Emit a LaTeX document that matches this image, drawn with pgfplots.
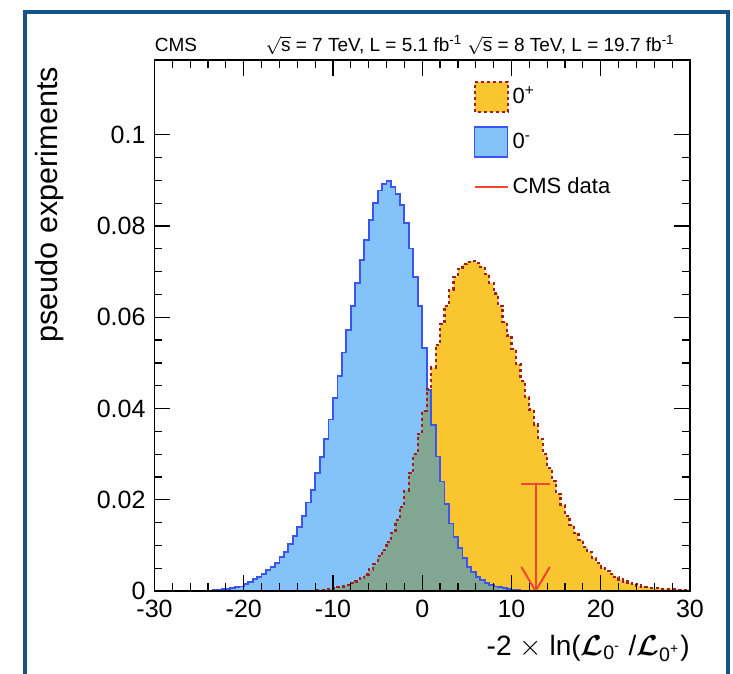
\documentclass[border=0pt]{standalone}
\usepackage{amsmath}
\usepackage{bm}
\usepackage{fontspec}
\setmainfont{Liberation Sans}
\usepackage{pgfplots}
\usepackage{pgfplotstable}
\pgfplotsset{compat=1.18}
\definecolor{yelF}{RGB}{249,198,48}
\definecolor{redD}{RGB}{160,30,30}
\definecolor{bluF}{RGB}{10,135,245}
\definecolor{bluL}{RGB}{60,85,240}
\definecolor{arrowR}{RGB}{240,70,50}
\definecolor{frameB}{RGB}{22,84,135}
\pgfplotstableread{
x neg pos
-30 0 0
-29.5 0 0
-29 0 0
-28.5 0 0
-28 0 0
-27.5 0 0
-27 0 0
-26.5 0 0
-26 0 0
-25.5 0 0
-25 0.00005 0
-24.5 0.00005 0
-24 0.0001 0
-23.5 0.0002 0
-23 0.0003 0
-22.5 0.0004 0
-22 0.0005 0
-21.5 0.0007 0
-21 0.0008 0
-20.5 0.0010 0
-20 0.0015 0
-19.5 0.0020 0
-19 0.0026 0
-18.5 0.0031 0
-18 0.0037 0
-17.5 0.0046 0
-17 0.0053 0
-16.5 0.0062 0
-16 0.0074 0
-15.5 0.0085 0
-15 0.0103 0
-14.5 0.0121 0
-14 0.0141 0
-13.5 0.0165 0
-13 0.0194 0
-12.5 0.0221 0
-12 0.0258 0.0001
-11.5 0.0293 0.0002
-11 0.0333 0.0003
-10.5 0.0376 0.0004
-10 0.0423 0.0006
-9.5 0.0472 0.0008
-9 0.0523 0.0010
-8.5 0.0572 0.0013
-8 0.0625 0.0017
-7.5 0.0675 0.0021
-7 0.0726 0.0028
-6.5 0.0770 0.0036
-6 0.0814 0.0047
-5.5 0.0850 0.0060
-5 0.0878 0.0076
-4.5 0.0892 0.0090
-4 0.0898 0.0108
-3.5 0.0885 0.0128
-3 0.0870 0.0155
-2.5 0.0846 0.0185
-2 0.0806 0.0220
-1.5 0.0751 0.0258
-1 0.0689 0.0300
-0.5 0.0624 0.0345
0 0.0532 0.0395
0.5 0.0441 0.0443
1 0.0364 0.0490
1.5 0.0295 0.0540
2 0.0240 0.0585
2.5 0.0190 0.0625
3 0.0148 0.0660
3.5 0.0119 0.0688
4 0.0094 0.0705
4.5 0.0072 0.0716
5 0.0053 0.0721
5.5 0.0042 0.0723
6 0.0031 0.0719
6.5 0.0024 0.0710
7 0.0018 0.0695
7.5 0.0013 0.0675
8 0.0010 0.0652
8.5 0.0008 0.0625
9 0.0006 0.0590
9.5 0.0004 0.0560
10 0.0003 0.0530
10.5 0.0002 0.0498
11 0.0001 0.0460
11.5 0.0001 0.0425
12 0 0.0398
12.5 0 0.0365
13 0 0.0333
13.5 0 0.0300
14 0 0.0270
14.5 0 0.0242
15 0 0.0213
15.5 0 0.0188
16 0 0.0165
16.5 0 0.0145
17 0 0.0128
17.5 0 0.0112
18 0 0.0097
18.5 0 0.0085
19 0 0.0072
19.5 0 0.0061
20 0 0.0051
20.5 0 0.0044
21 0 0.0037
21.5 0 0.0030
22 0 0.0025
22.5 0 0.0021
23 0 0.0017
23.5 0 0.0015
24 0 0.0012
24.5 0 0.0010
25 0 0.0008
25.5 0 0.0007
26 0 0.0006
26.5 0 0.0005
27 0 0.0005
27.5 0 0.0004
28 0 0.0004
28.5 0 0.0003
29 0 0.0003
29.5 0 0.0003
30 0 0.0003
}\histdata
\begin{document}
\begin{tikzpicture}
\begin{axis}[
  name=ax, at={(0,0)}, anchor=south west,
  scale only axis, width=267.75pt, height=265.5pt,
  xmin=-30, xmax=30, ymin=0, ymax=0.1164,
  axis on top,
  axis line style={line width=0.8pt},
  xtick={-30,-20,-10,0,10,20,30},
  xticklabels={-30,-20,-10,0,10,20,30},
  minor x tick num=4,
  ytick={0,0.02,0.04,0.06,0.08,0.1},
  yticklabels={0,0.02,0.04,0.06,0.08,0.1},
  minor y tick num=3,
  tick align=inside,
  major tick length=8pt, minor tick length=3.8pt,
  every tick/.style={black, line width=0.6pt},
  /pgf/number format/assume math mode=true,
  ticklabel style={font=\fontsize{12.5}{15}\selectfont},
  xticklabel style={yshift=-1pt},
  yticklabel style={xshift=-1pt},
  xlabel={-2 $\times$ ln($\boldsymbol{\mathcal{L}}_{\text{0}^{\text{-}}}$ /$\boldsymbol{\mathcal{L}}_{\text{0}^{\text{+}}}$)},
  xlabel style={at={(axis description cs:1,0)}, anchor=base east, inner sep=0pt, yshift=-32pt, font=\fontsize{14}{17}\selectfont},
  ylabel={pseudo experiments},
  ylabel style={at={(axis description cs:-0.195,1)}, anchor=east, font=\fontsize{15.3}{18}\selectfont},
  legend style={at={(axis description cs:0.595,0.962)}, anchor=north west, draw=none, fill=none,
    inner sep=0pt, row sep=6.8pt, font=\fontsize{11}{13}\selectfont},
  legend cell align=left,
]
\addplot[const plot mark left, fill=yelF, draw=none, forget plot] table[x=x, y=pos] {\histdata} \closedcycle;
\addplot[const plot mark left, fill=bluF, fill opacity=0.5, draw=none, forget plot] table[x=x, y=neg] {\histdata} \closedcycle;
\addplot[const plot mark left, draw=bluL, line width=0.9pt, forget plot] table[x=x, y=neg] {\histdata};
\addplot[const plot mark left, draw=redD, line width=1.1pt, dash pattern=on 1.5pt off 1.5pt, forget plot] table[x=x, y=pos] {\histdata};
\addplot[arrowR, line width=1pt, forget plot] coordinates {(12.7,0.0234) (12.7,0)};
\addplot[arrowR, line width=1pt, forget plot] coordinates {(11.1,0.0234) (14.3,0.0234)};
\addplot[arrowR, line width=1pt, forget plot] coordinates {(11.1,0.0053) (12.7,0) (14.3,0.0053)};
\addlegendimage{legend image code/.code={\draw[fill=yelF, draw=redD, line width=1pt, dash pattern=on 1.5pt off 1.5pt] (0pt,-7.5pt) rectangle (16.5pt,7.5pt);}}
\addlegendentry{0\textsuperscript{+}}
\addlegendimage{legend image code/.code={\draw[fill=bluF, fill opacity=0.5, draw=bluL, draw opacity=1, line width=0.9pt] (0pt,-7.5pt) rectangle (16.5pt,7.5pt);}}
\addlegendentry{0\textsuperscript{-}}
\addlegendimage{legend image code/.code={\path (0pt,-7.5pt) (16.5pt,7.5pt); \draw[arrowR, line width=1pt] (0pt,0pt) -- (16.5pt,0pt);}}
\addlegendentry{CMS data}
\end{axis}
\node[anchor=base west, font=\fontsize{9.5}{11}\selectfont, inner sep=0pt] at ([yshift=4pt]ax.north west) {CMS};
\node[anchor=base east, font=\fontsize{9.5}{11}\selectfont, inner sep=0pt] at ([xshift=-7.5pt, yshift=4pt]ax.north east) {$\sqrt{\text{s}}$ = 7 TeV, L = 5.1 fb\textsuperscript{-1} $\sqrt{\text{s}}$ = 8 TeV, L = 19.7 fb\textsuperscript{-1}};
\draw[frameB, line width=2pt] (-64.75pt,-60pt) -- (-64.75pt,289.5pt) -- (286.75pt,289.5pt) -- (286.75pt,-60pt);
\pgfresetboundingbox
\useasboundingbox (-77.25pt,-41.5pt) rectangle (289.25pt,295.5pt);
\end{tikzpicture}
\end{document}
